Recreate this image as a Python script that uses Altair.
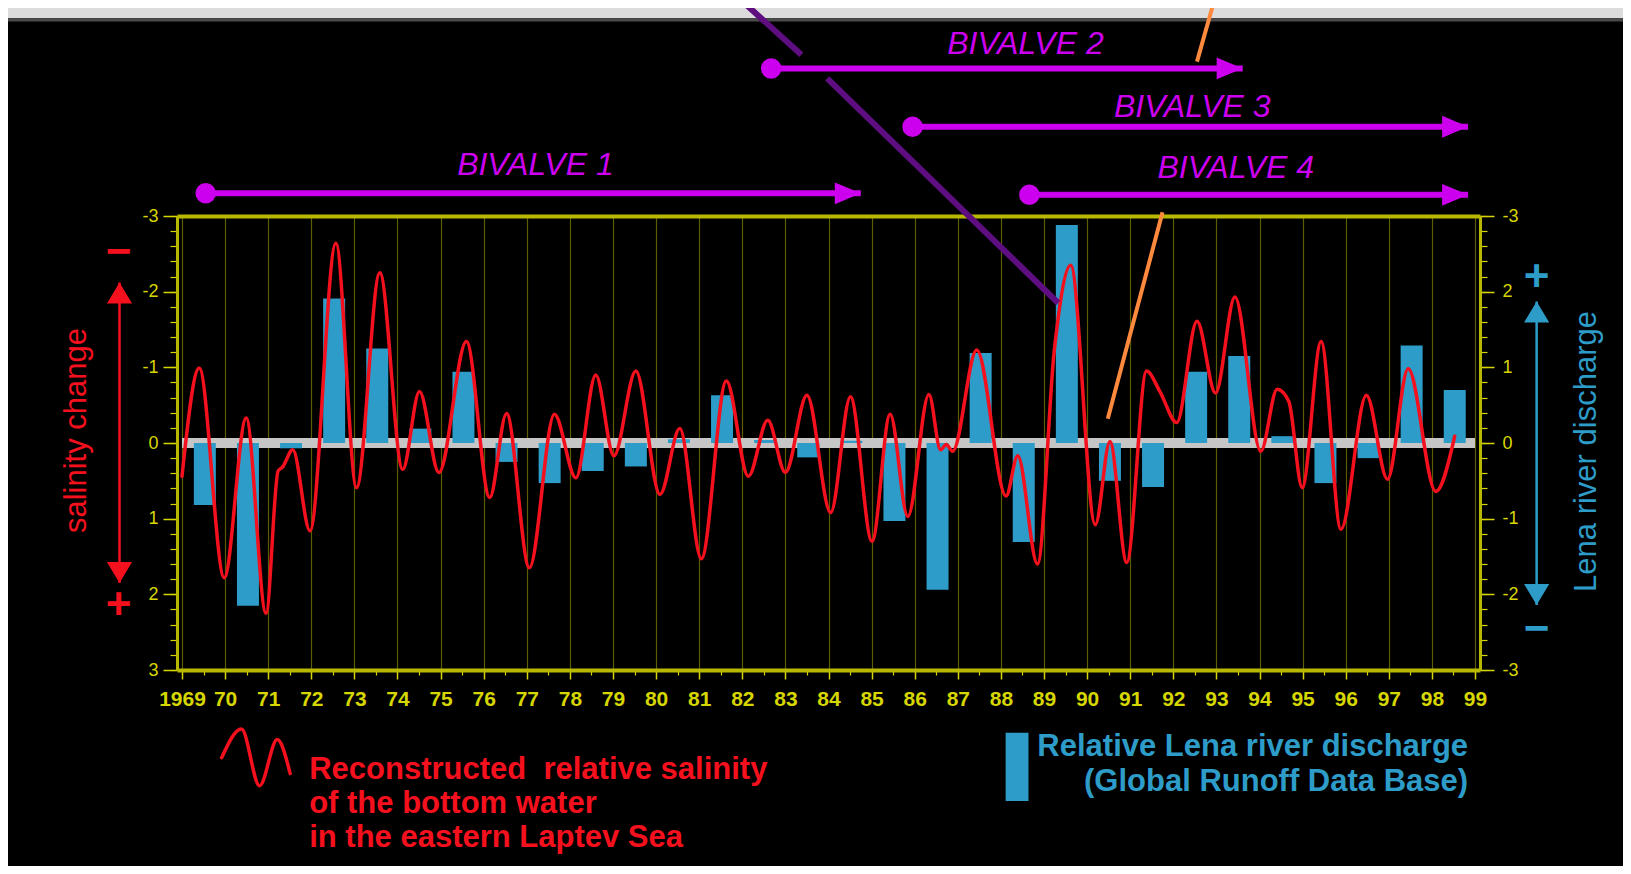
import altair as alt
import pandas as pd

# ---------------- values ----------------
# relative Lena river discharge (right axis), one bar per year
bar_years = list(range(1969, 1999))
bar_values = [-0.82, -2.15, -0.07, 1.91, 1.25, 0.19, 0.94, -0.25, -0.53, -0.37,
              -0.31, 0.05, 0.63, 0.04, -0.19, 0.03, -1.03, -1.94, 1.19, -1.31,
              2.88, -0.50, -0.58, 0.94, 1.15, 0.09, -0.53, -0.20, 1.29, 0.70]

# reconstructed relative salinity (left axis, reversed), turning points of the curve
sal_years = [1969.00, 1969.40, 1969.98, 1970.49, 1970.95, 1971.23, 1971.33, 1971.57,
             1971.97, 1972.57, 1973.05, 1973.59, 1974.12, 1974.51, 1974.96, 1975.60,
             1976.14, 1976.53, 1977.06, 1977.64, 1978.14, 1978.60, 1979.02, 1979.53,
             1980.09, 1980.55, 1981.05, 1981.63, 1982.14, 1982.59, 1983.00, 1983.50,
             1984.05, 1984.51, 1985.01, 1985.43, 1985.84, 1986.33, 1986.60, 1986.73,
             1986.88, 1987.44, 1988.12, 1988.39, 1988.85, 1989.24, 1989.62, 1990.19,
             1990.53, 1990.92, 1991.38, 1991.69, 1992.08, 1992.55, 1992.98, 1993.43,
             1994.03, 1994.41, 1994.68, 1994.99, 1995.43, 1995.89, 1996.48, 1996.97,
             1997.45, 1998.09, 1998.53]
sal_values = [0.44, -0.99, 1.78, -0.33, 2.25, 0.37, 0.32, 0.09,
              1.16, -2.64, 0.59, -2.25, 0.35, -0.68, 0.39, -1.34,
              0.72, -0.39, 1.65, -0.38, 0.46, -0.90, 0.17, -0.95,
              0.68, -0.19, 1.53, -0.82, 0.44, -0.30, 0.39, -0.63,
              0.92, -0.61, 1.30, -0.38, 0.97, -0.64, 0.09, 0.02,
              0.11, -1.23, 0.70, 0.17, 1.60, -1.23, -2.35, 1.08,
              -0.02, 1.58, -0.95, -0.68, -0.27, -1.61, -0.66, -1.93,
              0.11, -0.71, -0.55, 0.59, -1.34, 1.14, -0.63, 0.48,
              -0.98, 0.64, -0.09]

# tick values
year_ticks = list(range(1969, 2000))
half_year_ticks = [y + 0.5 for y in range(1969, 1999)]
unit_ticks = [-3, -2, -1, 0, 1, 2, 3]
minor_ticks = [round(-3 + 0.2 * i, 1) for i in range(31)]

# bivalve records (years covered)
bivalve_names = ["BIVALVE 1", "BIVALVE 2", "BIVALVE 3", "BIVALVE 4"]
bivalve_start = [1969.55, 1982.67, 1985.95, 1988.66]
bivalve_end = [1984.75, 1993.61, 1998.84, 1998.84]

legend_salinity_lines = ["Reconstructed\u00a0 relative salinity", "of the bottom water",
                         "in the eastern Laptev Sea"]
legend_discharge_lines = ["Relative Lena river discharge", "(Global Runoff Data Base)"]

# ---------------- annotation placement (chart units: years / salinity units) ----------------
bivalve_row = [-3.30, -4.95, -4.18, -3.28]
bivalve_label_x = [1977.20, 1988.57, 1992.44, 1993.45]
bivalve_label_y = [-3.67, -5.27, -4.44, -3.64]

purple_pointer = {"x": [1981.98, 1983.97], "y": [-5.85, -4.82],
                  "x2": [1983.37, 1989.33], "y2": [-5.13, -1.85]}
orange_pointer = {"x": [1992.95, 1991.75], "y": [-5.85, -3.05],
                  "x2": [1992.55, 1990.48], "y2": [-5.04, -0.32]}

sal_arrow = {"x": [1967.55], "top": [-2.12], "bottom": [1.85]}
sal_signs = {"x": [1967.53, 1967.53], "y": [-2.51, 2.16], "t": ["\u2212", "+"]}
dis_arrow = {"x": [2000.43], "top": [-1.87], "bottom": [2.14]}
dis_signs = {"x": [2000.43, 2000.43], "y": [-2.18, 2.47], "t": ["+", "\u2212"]}

squiggle_x = [1969.92, 1970.38, 1970.80, 1971.21, 1971.51]
squiggle_y = [4.16, 3.78, 4.53, 3.92, 4.37]
legend_sal_x = 1971.95
legend_sal_y = [4.32, 4.77, 5.22]
legend_dis_x = 1998.84
legend_dis_y = [4.02, 4.48]
legend_box = {"x": [1988.11], "x2": [1988.64], "y": [3.83], "y2": [4.73]}

# ---------------- styles ----------------
FONT = "Liberation Sans, Arial, Helvetica, sans-serif"
YEL = "#d6d600"
YEL_LINE = "#b8b800"
GRID = "#5c5c06"
RED = "#f5101e"
BLUE = "#2e9cc8"
MAG = "#cc00ee"
PURPLE = "#5e0e80"
ORANGE = "#ff8a3d"
ZERO_GRAY = "#c6c6c6"

RIGHT_HEAD = "M0,0L-1,-0.42L-1,0.42Z"
UP_HEAD = "M0,0L-0.6,1L0.6,1Z"
DOWN_HEAD = "M0,0L-0.6,-1L0.6,-1Z"

XS = alt.Scale(domain=[1969, 1999], nice=False, zero=False)


def sal_scale():
    return alt.Scale(domain=[-3, 3], reverse=True, nice=False, zero=False)


def dis_scale():
    return alt.Scale(domain=[-3, 3], nice=False, zero=False)


def X(field, axis=None):
    return alt.X(field, type="quantitative", scale=XS, axis=axis)


def Y(field, axis=None):
    return alt.Y(field, type="quantitative", scale=sal_scale(), axis=axis)


# ---------------- axes ----------------
bottom_axis = alt.Axis(orient="bottom", values=year_ticks,
                       labelExpr="datum.value == 1969 ? '1969' : slice(toString(datum.value), 2)",
                       labelColor=YEL, labelFont=FONT, labelFontSize=21, labelFontWeight="bold",
                       labelPadding=9, labelOverlap=False, labelFlush=False,
                       tickColor=YEL, tickSize=9, tickWidth=1.5,
                       domainColor=YEL_LINE, domainWidth=4,
                       grid=True, gridColor=GRID, gridWidth=1.2, title=None)
minor_x_axis = alt.Axis(orient="bottom", values=half_year_ticks, labels=False, domain=False,
                        grid=False, tickColor=YEL, tickSize=5, tickWidth=1.2, title=None)
top_axis = alt.Axis(orient="top", labels=False, ticks=False, grid=False,
                    domainColor=YEL_LINE, domainWidth=4, title=None)
left_axis = alt.Axis(orient="left", values=unit_ticks, labelExpr="toString(datum.value)",
                     labelColor=YEL, labelFont=FONT, labelFontSize=18, labelPadding=5,
                     tickColor=YEL, tickSize=14, tickWidth=1.5,
                     domainColor=YEL_LINE, domainWidth=3, grid=False,
                     title="salinity change", titleColor=RED, titleFont=FONT, titleFontSize=31,
                     titleFontWeight="normal", titleAngle=270, titleX=-101, titleY=214,
                     titleAlign="center", titleBaseline="middle")
minor_left_axis = alt.Axis(orient="left", values=minor_ticks, labels=False, domain=False,
                           grid=False, tickColor=YEL, tickSize=7, tickWidth=1.2, title=None)
right_axis = alt.Axis(orient="right", values=unit_ticks,
                      labelExpr="datum.value == 3 ? '-3' : toString(datum.value)",
                      labelColor=YEL, labelFont=FONT, labelFontSize=18, labelPadding=8,
                      tickColor=YEL, tickSize=14, tickWidth=1.5,
                      domainColor=YEL_LINE, domainWidth=3, grid=False,
                      title="Lena river discharge", titleColor=BLUE, titleFont=FONT,
                      titleFontSize=31, titleFontWeight="normal", titleAngle=270,
                      titleX=106, titleY=235, titleAlign="center", titleBaseline="middle")
minor_right_axis = alt.Axis(orient="right", values=minor_ticks, labels=False, domain=False,
                            grid=False, tickColor=YEL, tickSize=7, tickWidth=1.2, title=None)

# ---------------- data frames ----------------
bars_df = pd.DataFrame({"year": bar_years, "discharge": bar_values})
bars_df["mid"] = bars_df["year"] + 0.53
sal_df = pd.DataFrame({"year": sal_years, "salinity": sal_values})
biv_df = pd.DataFrame({"name": bivalve_names, "start": bivalve_start, "end": bivalve_end,
                       "row": bivalve_row, "lx": bivalve_label_x, "ly": bivalve_label_y})
one = pd.DataFrame({"a": [0]})

# ---------------- layers ----------------
strip = alt.Chart(one).mark_rect(color="#dcdcdc").encode(
    x=alt.value(-169), x2=alt.value(1446), y=alt.value(-208), y2=alt.value(-197.7))
strip_edge = alt.Chart(one).mark_rect(color="#4a4a4a").encode(
    x=alt.value(-169), x2=alt.value(1446), y=alt.value(-197.7), y2=alt.value(-194.5))

zero_band = alt.Chart(pd.DataFrame({"x0": [1969], "x1": [1999], "v": [0]})).mark_rule(
    color=ZERO_GRAY, strokeWidth=10).encode(
    x=X("x0", minor_x_axis), x2=alt.X2("x1"), y=Y("v", minor_left_axis))

frame = alt.Chart(pd.DataFrame({"x": [1969], "v": [0]})).mark_point(opacity=0).encode(
    x=X("x", top_axis),
    y=alt.Y("v", type="quantitative", scale=dis_scale(), axis=minor_right_axis))

bars = alt.Chart(bars_df).mark_bar(color=BLUE, size=22, orient="vertical").encode(
    x=X("mid"),
    y=alt.Y("discharge", type="quantitative", scale=dis_scale(), axis=right_axis))

salinity = alt.Chart(sal_df).mark_line(color=RED, strokeWidth=3.5, interpolate="monotone",
                                       strokeCap="round", strokeJoin="round").encode(
    x=X("year", bottom_axis), y=Y("salinity", left_axis))

purple = alt.Chart(pd.DataFrame(purple_pointer)).mark_rule(color=PURPLE, strokeWidth=6).encode(
    x=X("x"), x2=alt.X2("x2"), y=Y("y"), y2=alt.Y2("y2"))
orange = alt.Chart(pd.DataFrame(orange_pointer)).mark_rule(color=ORANGE, strokeWidth=4).encode(
    x=X("x"), x2=alt.X2("x2"), y=Y("y"), y2=alt.Y2("y2"))

biv_rule = alt.Chart(biv_df).mark_rule(color=MAG, strokeWidth=6).encode(
    x=X("start"), x2=alt.X2("end"), y=Y("row"))
biv_dot = alt.Chart(biv_df).mark_point(shape="circle", filled=True, size=420, opacity=1,
                                       color=MAG).encode(x=X("start"), y=Y("row"))
biv_head = alt.Chart(biv_df).mark_point(shape=RIGHT_HEAD, filled=True, size=2704, opacity=1,
                                        color=MAG).encode(x=X("end"), y=Y("row"))
biv_text = alt.Chart(biv_df).mark_text(font=FONT, fontSize=32, fontStyle="italic", color=MAG,
                                       align="center", baseline="middle").encode(
    x=X("lx"), y=Y("ly"), text="name:N")


def vertical_arrow(spec, color):
    df = pd.DataFrame(spec)
    shaft = alt.Chart(df).mark_rule(color=color, strokeWidth=2.5).encode(
        x=X("x"), y=Y("top"), y2=alt.Y2("bottom"))
    up = alt.Chart(df).mark_point(shape=UP_HEAD, filled=True, size=1764, opacity=1,
                                  color=color).encode(x=X("x"), y=Y("top"))
    down = alt.Chart(df).mark_point(shape=DOWN_HEAD, filled=True, size=1764, opacity=1,
                                    color=color).encode(x=X("x"), y=Y("bottom"))
    return [shaft, up, down]


def signs(spec, color):
    return alt.Chart(pd.DataFrame(spec)).mark_text(font=FONT, fontSize=44, fontWeight="bold",
                                                   color=color, align="center",
                                                   baseline="middle").encode(
        x=X("x"), y=Y("y"), text="t:N")


squiggle = alt.Chart(pd.DataFrame({"x": squiggle_x, "y": squiggle_y})).mark_line(
    color=RED, strokeWidth=3.5, interpolate="monotone", strokeCap="round").encode(
    x=X("x"), y=Y("y"))
leg_sal_text = alt.Chart(pd.DataFrame({"t": legend_salinity_lines,
                                       "x": [legend_sal_x] * 3, "y": legend_sal_y})).mark_text(
    font=FONT, fontSize=31, fontWeight="bold", color=RED, align="left",
    baseline="middle").encode(x=X("x"), y=Y("y"), text="t:N")
leg_box = alt.Chart(pd.DataFrame(legend_box)).mark_rect(color=BLUE).encode(
    x=X("x"), x2=alt.X2("x2"), y=Y("y"), y2=alt.Y2("y2"))
leg_dis_text = alt.Chart(pd.DataFrame({"t": legend_discharge_lines,
                                       "x": [legend_dis_x] * 2, "y": legend_dis_y})).mark_text(
    font=FONT, fontSize=31, fontWeight="bold", color=BLUE, align="right",
    baseline="middle").encode(x=X("x"), y=Y("y"), text="t:N")

layers = [strip, strip_edge, zero_band, frame, bars, salinity, purple, orange,
          biv_rule, biv_dot, biv_head, biv_text]
layers += vertical_arrow(sal_arrow, RED) + [signs(sal_signs, RED)]
layers += vertical_arrow(dis_arrow, BLUE) + [signs(dis_signs, BLUE)]
layers += [squiggle, leg_sal_text, leg_box, leg_dis_text]

chart = alt.layer(*layers).resolve_scale(y="independent").resolve_axis(
    x="independent", y="independent").properties(
    width=1303, height=454, background="black",
    padding={"left": 169, "top": 208, "right": 143, "bottom": 196},
    autosize=alt.AutoSizeParams(type="none")).configure_view(stroke="transparent")

chart.save("out.html", embed_options={"renderer": "svg", "actions": False})
